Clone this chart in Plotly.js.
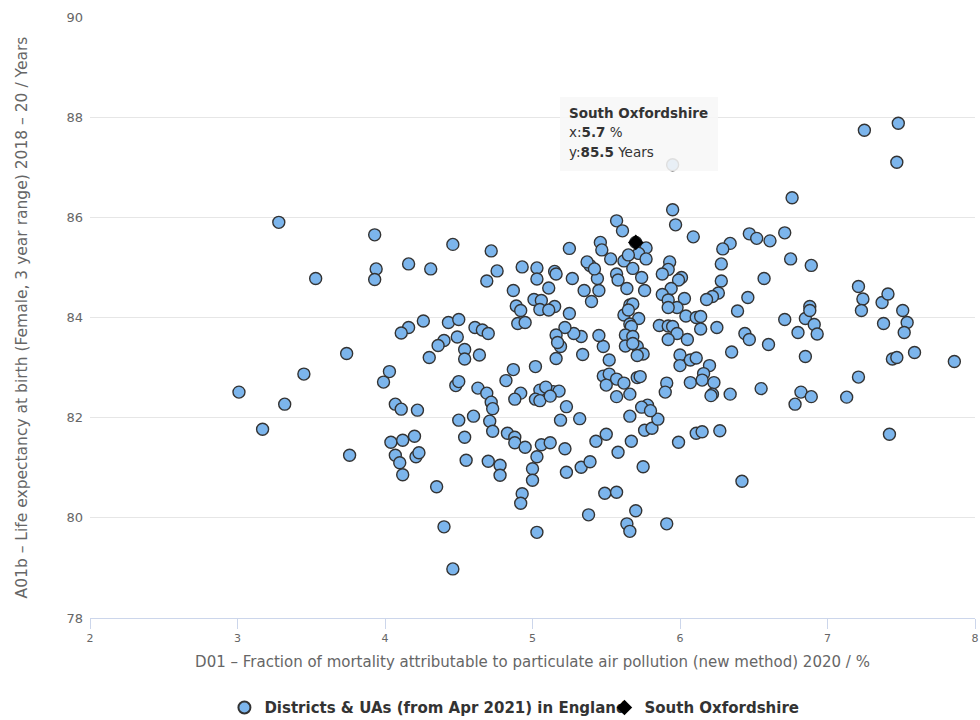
<!DOCTYPE html>
<html>
<head>
<meta charset="utf-8">
<script src="https://cdn.plot.ly/plotly-3.0.1.min.js"></script>
<style>
  html, body { margin: 0; padding: 0; background: #ffffff; }
  #chart { width: 980px; height: 720px; }
</style>
</head>
<body>
<div id="chart"></div>
<script>
// Fraction of mortality attributable to particulate air pollution (%), per district / UA
const districtX = [
  3.28, 3.93, 4.46, 3.53, 3.94, 3.93, 4.16, 4.31, 4.26, 4.16, 4.11, 4.43, 4.50, 4.49, 4.40, 4.36,
  4.30, 4.54, 4.54, 3.74, 4.03, 3.99, 3.45, 3.01, 4.48, 4.50, 3.32, 3.17, 3.76, 4.07, 4.11, 4.22,
  4.50, 4.54, 4.55, 4.04, 4.12, 4.20, 4.07, 4.10, 4.21, 4.23, 4.12, 4.35, 4.40, 4.46,
  4.72, 4.76, 4.69, 4.93, 5.03, 5.03, 5.15, 5.16, 5.11, 4.87, 5.25, 5.27, 5.01, 5.06, 5.05, 5.15,
  5.11, 4.89, 4.92, 4.90, 4.95, 5.25, 5.35, 5.40, 5.45, 5.44, 5.39, 5.37, 5.42, 5.46, 5.47, 5.53,
  5.57, 5.61, 5.62, 5.68, 5.57, 5.58, 5.64, 5.70, 5.77, 5.72, 5.77, 5.74, 5.76, 5.95, 5.97, 6.09,
  5.93, 5.92, 5.88, 6.01, 5.99, 5.94, 5.88, 5.92, 6.03, 5.98, 5.92, 5.66, 5.68, 5.62, 5.65, 5.72,
  5.66, 5.67, 5.63, 5.68, 5.63, 5.71, 5.75, 6.04, 6.11, 5.86, 5.92, 5.95, 5.98, 5.92, 6.05, 6.00,
  6.00, 6.07, 6.11, 6.07, 5.91, 5.90, 5.48, 5.52, 5.57, 5.62, 5.57, 5.66, 5.71, 5.73, 5.50, 5.52,
  5.48, 5.45, 5.34, 5.33, 5.28, 5.22, 5.16, 5.19, 5.16, 5.02, 4.87, 4.82, 4.64, 4.61, 4.66, 4.70,
  4.63, 4.69, 4.92, 5.05, 5.14, 5.18, 5.17, 5.65, 5.68, 5.71, 5.78,
  4.72, 4.73, 4.88, 5.02, 5.05, 5.23, 5.19, 5.32, 4.60, 4.71, 4.73, 4.83, 4.88, 4.88, 4.95, 5.06,
  5.12, 5.22, 5.03, 5.00, 5.00, 4.70, 4.78, 4.78, 4.93, 4.92, 5.03, 5.23, 5.33, 5.39, 5.43, 5.50,
  5.58, 5.67, 5.76, 5.81, 5.85, 5.74, 5.80, 5.66, 5.75, 5.99, 5.49, 5.57, 5.38, 5.70, 5.64, 5.66,
  5.91, 6.11, 5.09, 5.12,
  7.25, 7.48, 7.47, 6.76, 6.47, 6.52, 6.61, 6.71, 6.34, 6.29, 6.28, 6.28, 6.75, 6.89, 6.57, 6.26,
  6.22, 6.18, 6.46, 6.39, 6.14, 6.14, 6.25, 6.44, 6.47, 6.35, 6.60, 6.71, 6.80, 6.85, 6.88, 6.88,
  6.91, 6.93, 6.85, 7.21, 7.24, 7.23, 7.37, 7.41, 7.38, 7.51, 7.54, 7.52, 7.59, 7.44, 7.47, 7.86,
  7.21, 6.20, 6.16, 6.15, 6.23, 6.22, 6.34, 6.55, 6.82, 6.89, 7.13, 6.78, 6.15, 6.27, 6.42, 7.42,
  6.21, 5.95
];

// Female life expectancy at birth 2018-20 (years), same order as districtX
const districtY = [
  85.90, 85.65, 85.46, 84.78, 84.97, 84.76, 85.07, 84.97, 83.93, 83.80, 83.69, 83.90, 83.96, 83.61, 83.54, 83.44,
  83.20, 83.36, 83.17, 83.28, 82.92, 82.71, 82.87, 82.51, 82.64, 82.72, 82.27, 81.77, 81.25, 82.27, 82.17, 82.15,
  81.95, 81.61, 81.15, 81.51, 81.55, 81.63, 81.25, 81.10, 81.22, 81.30, 80.86, 80.62, 79.82, 78.98,
  85.33, 84.93, 84.73, 85.01, 84.99, 84.77, 84.92, 84.87, 84.59, 84.54, 85.38, 84.78, 84.36, 84.34, 84.16, 84.22,
  84.15, 84.23, 84.14, 83.88, 83.90, 84.08, 84.54, 84.32, 84.54, 84.78, 85.04, 85.11, 84.97, 85.50, 85.35, 85.17,
  85.93, 85.73, 85.13, 84.98, 84.87, 84.75, 84.58, 85.50, 85.39, 85.28, 85.17, 84.80, 84.54, 86.15, 85.85, 85.61,
  85.11, 84.96, 84.87, 84.80, 84.75, 84.58, 84.46, 84.35, 84.38, 84.20, 84.20, 84.25, 84.27, 84.05, 84.15, 83.98,
  83.87, 83.82, 83.65, 83.62, 83.43, 83.42, 83.27, 84.03, 84.00, 83.84, 83.83, 83.82, 83.68, 83.56, 83.56, 83.25,
  83.04, 83.15, 83.19, 82.70, 82.69, 82.51, 82.83, 82.87, 82.77, 82.69, 82.42, 82.47, 82.80, 82.82, 82.65, 83.15,
  83.42, 83.64, 83.26, 83.62, 83.68, 83.80, 83.65, 83.42, 83.18, 83.02, 82.96, 82.74, 83.25, 83.80, 83.75, 83.68,
  82.59, 82.49, 82.49, 82.55, 82.52, 82.53, 83.50, 85.25, 83.48, 83.24, 82.25,
  82.31, 82.18, 82.37, 82.37, 82.34, 82.22, 81.95, 81.98, 82.03, 81.93, 81.73, 81.69, 81.61, 81.50, 81.41, 81.46,
  81.50, 81.38, 81.22, 80.98, 80.75, 81.13, 81.05, 80.85, 80.48, 80.29, 79.71, 80.91, 81.01, 81.12, 81.53, 81.67,
  81.31, 81.53, 81.75, 81.79, 81.97, 82.21, 82.14, 82.03, 81.02, 81.51, 80.49, 80.51, 80.06, 80.14, 79.88, 79.73,
  79.88, 81.69, 82.61, 82.43,
  87.74, 87.88, 87.10, 86.39, 85.67, 85.58, 85.53, 85.69, 85.48, 85.37, 85.07, 84.73, 85.17, 85.04, 84.78, 84.49,
  84.42, 84.36, 84.40, 84.13, 84.02, 83.77, 83.80, 83.68, 83.56, 83.31, 83.46, 83.96, 83.70, 83.98, 84.22, 84.14,
  83.86, 83.67, 83.22, 84.62, 84.37, 84.14, 84.30, 84.47, 83.88, 84.14, 83.90, 83.70, 83.30, 83.17, 83.20, 83.12,
  82.81, 83.04, 82.88, 82.75, 82.70, 82.47, 82.47, 82.58, 82.51, 82.42, 82.41, 82.27, 81.72, 81.74, 80.73, 81.67,
  82.44, 87.05
];

// Highlighted area
const highlightName = 'South Oxfordshire';
const highlightX = [5.7];
const highlightY = [85.5];

const seriesName = 'Districts & UAs (from Apr 2021) in England';
const xTitle = 'D01 – Fraction of mortality attributable to particulate air pollution (new method) 2020 / %';
const yTitle = 'A01b – Life expectancy at birth (Female, 3 year range) 2018 – 20 / Years';
const xUnit = '%';
const yUnit = 'Years';

const FONT = 'DejaVu Sans, Verdana, sans-serif';

const traces = [
  {
    type: 'scatter',
    mode: 'markers',
    name: seriesName,
    x: districtX,
    y: districtY,
    marker: {
      symbol: 'circle',
      size: 12,
      color: '#7cb5ec',
      line: { color: '#333333', width: 1.4 }
    },
    hoverinfo: 'skip'
  },
  {
    type: 'scatter',
    mode: 'markers',
    name: highlightName,
    x: highlightX,
    y: highlightY,
    marker: {
      symbol: 'diamond',
      size: 12,
      color: '#000000',
      line: { color: '#000000', width: 0 }
    },
    hoverinfo: 'skip'
  }
];

// Tooltip-style info box for the highlighted area (paper coordinates)
const tipLeft = 0.5311, tipRight = 0.7096, tipTop = 0.8669, tipBottom = 0.7437;
const tipTextX = 0.5390;
const tipLines = [
  { y: 0.8403, text: '<b>' + highlightName + '</b>' },
  { y: 0.8087, text: 'x:<b>' + highlightX[0] + '</b> ' + xUnit },
  { y: 0.7754, text: 'y:<b>' + highlightY[0] + '</b> ' + yUnit }
];

const layout = {
  width: 980,
  height: 720,
  margin: { l: 90, r: 5, t: 17, b: 102 },
  paper_bgcolor: '#ffffff',
  plot_bgcolor: '#ffffff',
  font: { family: FONT, color: '#666666', size: 12 },
  showlegend: true,
  hovermode: false,
  xaxis: {
    range: [2, 8],
    tick0: 2,
    dtick: 1,
    showgrid: false,
    zeroline: false,
    showline: true,
    linecolor: '#ccd6eb',
    linewidth: 1,
    ticks: 'outside',
    ticklen: 10,
    tickcolor: '#ccd6eb',
    tickfont: { family: FONT, size: 11, color: '#666666' },
    title: { text: xTitle, font: { family: FONT, size: 15, color: '#666666' }, standoff: 12 }
  },
  yaxis: {
    range: [78, 90],
    tick0: 78,
    dtick: 2,
    showgrid: true,
    gridcolor: '#e6e6e6',
    gridwidth: 1,
    zeroline: false,
    showline: false,
    ticks: '',
    ticklabelstandoff: 6,
    tickfont: { family: FONT, size: 13, color: '#666666' },
    title: { text: yTitle, font: { family: FONT, size: 15.5, color: '#666666' }, standoff: 35 }
  },
  legend: {
    orientation: 'h',
    xref: 'container',
    yref: 'container',
    x: 0.229,
    xanchor: 'left',
    y: 0.04,
    yanchor: 'top',
    font: { family: FONT, size: 15, color: '#333333', weight: 'bold' },
    itemsizing: 'constant',
    itemwidth: 30,
    entrywidth: 335,
    entrywidthmode: 'pixels',
    tracegroupgap: 0
  },
  shapes: [
    {
      type: 'rect',
      xref: 'paper',
      yref: 'paper',
      x0: tipLeft,
      x1: tipRight,
      y0: tipBottom,
      y1: tipTop,
      layer: 'above',
      fillcolor: 'rgba(247,247,247,0.88)',
      line: { width: 0 }
    }
  ],
  annotations: tipLines.map(function (ln) {
    return {
      xref: 'paper',
      yref: 'paper',
      x: tipTextX,
      y: ln.y,
      xanchor: 'left',
      yanchor: 'middle',
      align: 'left',
      showarrow: false,
      text: ln.text,
      font: { family: FONT, size: 13.5, color: '#333333' }
    };
  })
};

Plotly.newPlot('chart', traces, layout, { displayModeBar: false, staticPlot: true });
</script>
</body>
</html>
